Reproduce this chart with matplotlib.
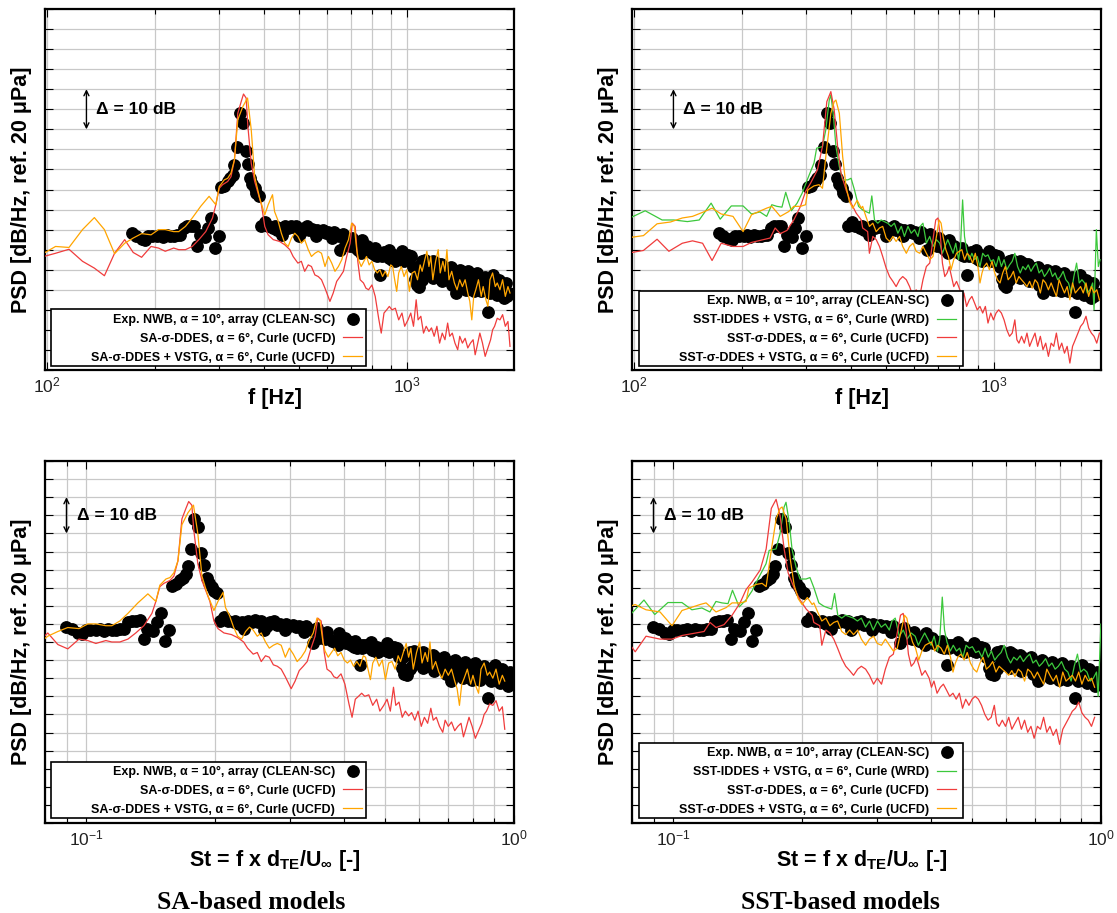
import numpy as np
import matplotlib
matplotlib.use('Agg')
import matplotlib.pyplot as plt
from matplotlib.patches import Rectangle
from matplotlib.ticker import MultipleLocator, LogLocator, NullFormatter

plt.rcParams['font.family'] = ['Liberation Sans', 'DejaVu Sans']
plt.rcParams['mathtext.fontset'] = 'custom'
plt.rcParams['mathtext.rm'] = 'Liberation Sans'
plt.rcParams['mathtext.it'] = 'Liberation Sans:italic'
plt.rcParams['mathtext.bf'] = 'Liberation Sans:bold'

# ---- experiment (NWB, CLEAN-SC), PSD in dB relative, f in Hz
exp_f = [172.7, 177.6, 183.5, 187.5, 191.6, 195.7, 202.2, 206.6, 211.0, 215.7, 220.4, 225.2, 230.0, 235.0,
         240.2, 245.4, 250.8, 256.2, 261.8, 266.4, 275.2, 280.6, 286.7, 293.6, 300.0, 304.4, 311.2, 318.0,
         322.8, 328.4, 332.0, 337.0, 343.0, 350.4, 356.4, 361.8, 367.4, 372.2, 377.8, 382.0, 388.6, 394.4,
         403.0, 411.8, 425.4,
         429, 437, 444, 452, 460, 468, 476, 484, 492, 501, 509, 518, 527, 536, 545, 555, 564, 574, 584, 594,
         605, 615, 626, 636, 647, 653, 664, 673, 684, 696, 708, 721, 733, 746, 759, 772, 785, 799, 813, 827,
         841, 848, 863, 878, 893, 908, 924, 940, 956, 973, 989, 1006, 1024, 1037, 1051, 1064, 1078, 1097,
         1115, 1135, 1154, 1174, 1195, 1215, 1236, 1257, 1279, 1301, 1324, 1347, 1370, 1394, 1418, 1442,
         1467, 1493, 1519, 1545, 1572, 1599, 1626, 1655, 1676, 1705, 1734, 1764, 1795, 1826, 1857, 1889, 1922,
         702, 750, 816, 889, 968,
         1060, 1101, 1154, 1200, 1257, 1307, 1370, 1424, 1493, 1551, 1626, 1690, 1764, 1834,
         450, 500, 560, 620, 780, 850, 920, 980,
         1110, 1180, 1250, 1330, 1400, 1460, 1530, 1600, 1700, 1780, 1860,
         1120, 1180, 1240, 1320, 1400, 1480, 1560, 1640, 1720, 1800, 1880]
exp_psd = [34.1, 33.5, 32.6, 32.3, 33.3, 33.3, 33.3, 33.6, 33.1, 33.6, 33.3, 33.3, 33.6, 33.6,
           35.4, 35.8, 35.8, 36.0, 30.8, 33.7, 33.1, 35.4, 37.9, 30.4, 33.3, 45.6, 45.9, 47.0,
           47.8, 48.7, 51.1, 55.7, 64.0, 61.7, 54.7, 51.3, 47.8, 46.4, 45.3, 44.1, 43.4, 35.8,
           37.0, 35.8, 35.4,
           35.8, 35.0, 35.4, 35.1, 35.8, 35.4, 36.0, 35.6, 35.8, 35.1, 34.5, 35.4, 35.8, 34.8, 35.1, 34.5, 35.0,
           34.3, 34.8, 34.1, 34.5, 34.0, 34.3, 33.7, 33.3, 29.8, 34.0, 31.2, 31.6, 30.8, 31.2, 30.4, 30.0, 29.1,
           30.8, 31.0, 30.4, 29.1, 28.7, 28.3, 23.7, 29.1, 29.3, 28.7, 27.9, 27.5, 27.1, 27.9, 28.3, 27.5, 28.5,
           28.7, 28.3, 25.8, 22.7, 21.2, 20.8, 22.5, 25.8, 26.2, 24.6, 24.2, 25.0, 23.3, 24.2, 24.6, 22.9, 23.7,
           22.5, 21.7, 19.2, 23.3, 24.2, 22.5, 21.7, 22.1, 21.2, 21.7, 20.8, 22.1, 20.4, 20.8, 14.4, 21.2, 23.7,
           20.4, 19.6, 19.2, 17.9, 18.35, 19.2,
           32.9, 32.5, 30.4, 30.0, 29.6,
           25.8, 27.1, 26.65, 26.8, 25.8, 25.4, 24.6, 22.1, 20.4, 20.0, 22.5, 22.5, 21.7, 20.8,
           33.7, 33.3, 33.3, 32.9, 29.6, 28.3, 28.7, 27.1,
           23.3, 22.9, 22.1, 21.2, 20.8, 20.0, 19.6, 19.6, 19.2, 18.8, 18.3,
           27.5, 27.1, 26.5, 25.8, 25.0, 24.6, 24.2, 23.3, 22.9, 22.5, 21.7]

# ---- SA-sigma-DDES (UCFD)
sa_red_f = [98.2, 105.9, 115.4, 125.8, 135.7, 144.7, 154.4, 164.7, 173.9, 183.5, 194.9, 204.4, 213.4, 225.2,
            232.6, 242.8, 253.6, 264.6, 276.4, 288.6, 294.8, 301.2, 307.8, 318.0, 324.8, 332.0, 339.2, 346.6,
            351.8, 357.8, 361.8, 369.6, 377.8, 386.0, 394.4, 403.0, 411.8, 425.4,
            443, 458, 473, 483, 498, 509, 520, 532, 543, 555, 567, 579, 592, 611, 624, 638, 652, 666, 680,
            695, 705, 718, 730, 741, 757, 769, 782, 799, 816, 834, 848, 863, 878, 893, 908, 928, 948, 968, 985,
            1006, 1024, 1042, 1060, 1073, 1092, 1111, 1130, 1150, 1169, 1189, 1210, 1231, 1252, 1274, 1296,
            1313, 1335, 1358, 1382, 1400, 1424, 1449, 1474, 1499, 1525, 1545, 1564, 1592, 1619, 1647, 1676,
            1705, 1727, 1749, 1779, 1810, 1841, 1873, 1905, 1930]
sa_red_psd = [28.3, 29.1, 30.1, 27.1, 25.4, 23.5, 29.1, 32.5, 29.3, 28.1, 30.8, 30.4, 29.6, 30.4,
              30.0, 30.0, 30.8, 32.5, 34.5, 37.9, 41.2, 45.3, 46.2, 47.0, 48.2, 52.4, 64.0, 66.9,
              68.8, 67.8, 60.7, 51.6, 47.0, 44.1, 41.2, 35.8, 33.7, 32.5,
              32.05, 31.2, 30.0, 28.3, 26.65, 27.1, 24.6, 26.2, 25.8, 23.7, 23.3, 22.5, 20.4, 17.1, 19.2, 22.1,
              23.3, 24.6, 28.3, 31.6, 36.6, 35.8, 27.1, 22.5, 21.7, 20.4, 20.0, 21.2, 18.35, 12.9, 9.2, 14.2,
              15.0, 15.85, 15.0, 15.4, 12.5, 14.2, 10.9, 12.5, 14.2, 10.9, 17.5, 12.5, 13.4, 9.2, 10.9, 9.6,
              10.5, 8.4, 10.9, 6.7, 9.2, 7.55, 11.7, 8.4, 9.2, 6.7, 5.06, 8.4, 6.7, 7.9, 5.5, 6.7, 7.55, 3.8,
              5.9, 9.2, 6.7, 3.4, 5.5, 7.55, 10.0, 10.9, 12.9, 12.5, 13.8, 10.9, 12.1, 5.9]

# ---- SA-sigma-DDES + VSTG (UCFD)
sa_orange_f = [98.2, 105.9, 115.4, 125.8, 135.7, 144.7, 154.4, 164.7, 173.9, 183.5, 194.9, 204.4, 213.4,
               225.2, 232.6, 242.8, 253.6, 267.6, 282.4, 294.8, 301.2, 311.2, 318.0, 324.8, 332.0, 339.2,
               350.4, 361.0, 369.6, 377.8, 390.2, 403.0, 411.8, 423.4,
               429, 438, 448, 458, 468, 478, 488, 498, 509, 520, 532, 543, 555, 567, 579, 592, 605, 618, 631,
               645, 659, 673, 688, 702, 714, 725, 733, 746, 759, 772, 785, 799, 813, 827, 841, 855, 870, 885,
               901, 912, 924, 936, 948, 964, 981, 998, 1015, 1033, 1051, 1069, 1087, 1101, 1120, 1135, 1150,
               1164, 1179, 1200, 1220, 1236, 1257, 1274, 1290, 1307, 1330, 1353, 1376, 1400, 1424, 1449, 1474,
               1493, 1512, 1531, 1551, 1578, 1606, 1626, 1655, 1676, 1698, 1727, 1757, 1779, 1810, 1841, 1873,
               1905, 1930]
sa_orange_psd = [29.1, 30.8, 30.55, 35.0, 38.0, 35.0, 29.0, 31.6, 32.9, 34.0, 33.7, 35.0, 35.0,
                 34.5, 34.5, 35.8, 37.9, 40.8, 43.3, 41.2, 45.7, 47.4, 47.8, 49.1, 52.4, 62.4,
                 65.7, 67.8, 59.9, 48.2, 42.8, 38.7, 41.2, 43.7,
                 39.5, 37.4, 34.1, 31.6, 30.8, 32.9, 34.1, 33.3, 31.6, 32.5, 30.0, 28.3, 29.1, 29.6, 29.1, 25.8,
                 28.3, 26.65, 24.6, 25.8, 27.5, 30.4, 32.5, 36.6, 35.8, 30.0, 27.5, 25.8, 27.1, 28.3, 26.2, 27.1,
                 25.0, 24.2, 25.0, 23.3, 24.6, 23.3, 26.2, 25.8, 22.5, 19.6, 24.2, 25.8, 23.3, 25.0, 19.6, 24.2,
                 24.6, 22.5, 26.2, 24.6, 27.5, 29.6, 25.8, 28.3, 22.5, 27.1, 30.0, 24.2, 27.1, 24.6, 30.0, 22.5,
                 24.6, 21.7, 20.0, 22.5, 20.8, 22.5, 19.2, 17.1, 12.5, 18.35, 20.0, 22.5, 18.35, 20.8, 17.5,
                 15.85, 22.5, 24.2, 20.8, 21.7, 20.0, 22.5, 18.35, 20.8, 19.2]

# ---- SST-IDDES + VSTG (WRD)
sst_green_f = [98.8, 107.7, 120.0, 129.3, 141.0, 152.1, 164.1, 173.9, 186.7, 201.3, 212.4, 224.2, 234.0,
               241.8, 249.8, 258.0, 264.3, 274.0, 284.2, 293.6, 303.2, 316.6, 322.0, 334.2, 341.4, 349.0,
               352.6, 358.6, 364.2, 372.2, 380.2, 392.8, 401.2, 410.0, 420.8,
               432, 441, 451, 458, 466, 476, 486, 496, 507, 518, 529, 541, 553, 564, 577, 589, 602, 615, 624,
               635, 649, 663, 677, 692, 707, 719, 731, 744, 757, 770, 783, 797, 807, 818, 828, 839, 854, 868,
               883, 898, 914, 930, 946, 962, 979, 996, 1013, 1030, 1048, 1066, 1085, 1104, 1123, 1142, 1162,
               1182, 1202, 1223, 1244, 1266, 1288, 1310, 1333, 1356, 1379, 1403, 1427, 1452, 1477, 1502, 1528,
               1555, 1582, 1609, 1637, 1665, 1694, 1723, 1753, 1783, 1814, 1845, 1877, 1894, 1922, 1947, 1968]
sst_green_psd = [38.1, 39.7, 37.4, 37.4, 37.0, 37.4, 41.6, 37.6, 40.9, 40.9, 38.9, 39.4, 38.3,
                 41.2, 40.8, 40.6, 44.3, 39.7, 41.6, 44.1, 47.4, 51.6, 55.3, 55.7, 59.9, 67.3,
                 68.6, 63.2, 55.7, 50.7, 47.4, 47.4, 47.8, 44.9, 40.8,
                 39.9, 39.5, 39.1, 43.4, 37.4, 36.6, 37.4, 37.0, 36.6, 35.8, 36.6, 34.1, 35.8, 33.3, 35.8, 34.1,
                 35.0, 33.3, 35.8, 36.6, 31.6, 33.3, 30.8, 32.5, 31.6, 29.1, 30.8, 32.5, 30.8, 29.1, 31.6, 27.5,
                 30.8, 42.4, 33.3, 30.0, 27.5, 29.1, 27.5, 28.3, 25.8, 29.1, 28.3, 28.7, 27.1, 27.5, 25.8, 28.3,
                 25.8, 27.5, 25.0, 26.2, 27.1, 29.1, 25.8, 24.2, 25.8, 25.0, 26.2, 24.6, 25.8, 26.65, 24.2, 25.0,
                 23.3, 24.2, 25.4, 23.3, 24.2, 22.5, 23.3, 24.6, 22.5, 21.7, 19.2, 23.3, 26.65, 21.7, 22.5, 21.7,
                 19.2, 20.0, 21.7, 15.0, 35.0, 25.8, 27.5]

# ---- SST-sigma-DDES (UCFD)
sst_red_f = [98.8, 106.5, 116.2, 125.3, 136.5, 145.7, 155.4, 165.1, 175.0, 188.7, 201.3, 212.4, 224.2,
             239.2, 247.0, 255.2, 266.4, 278.2, 290.4, 300.0, 309.8, 323.6, 334.2, 343.6, 352.6, 360.2,
             368.2, 376.2, 388.6, 401.2, 414.6, 428.2,
             432, 446, 451, 461, 471, 481, 491, 502, 513, 524, 535, 547, 558, 571, 583, 596, 608, 622, 635,
             649, 663, 677, 689, 699, 710, 719, 730, 741, 751, 762, 773, 787, 804, 814, 825, 839, 854, 868,
             883, 898, 914, 930, 946, 962, 979, 996, 1013, 1030, 1048, 1066, 1085, 1104, 1123, 1142, 1157,
             1172, 1192, 1213, 1234, 1255, 1276, 1299, 1321, 1344, 1367, 1391, 1415, 1440, 1464, 1489, 1515,
             1541, 1568, 1595, 1623, 1651, 1680, 1709, 1738, 1768, 1799, 1830, 1862, 1894, 1927, 1960]
sst_red_psd = [29.3, 29.8, 32.6, 29.6, 31.6, 32.2, 31.6, 27.3, 31.6, 30.8, 30.8, 31.8, 32.3,
               32.9, 35.4, 34.0, 34.8, 37.4, 40.8, 44.5, 46.6, 49.9, 55.7, 66.9, 69.4, 64.9,
               55.7, 49.1, 44.9, 41.6, 39.1, 37.4,
               35.4, 34.5, 29.1, 33.3, 32.5, 30.8, 28.3, 25.4, 23.3, 22.1, 20.8, 22.5, 23.3, 22.5, 20.8, 18.35,
               20.0, 18.35, 22.5, 25.8, 26.65, 32.5, 37.4, 37.9, 33.3, 26.65, 23.3, 24.2, 25.8, 23.3, 20.8, 22.1,
               20.0, 17.5, 19.2, 15.85, 17.5, 18.35, 16.7, 15.0, 15.85, 14.2, 15.85, 11.7, 14.2, 12.5, 14.2,
               15.0, 14.2, 12.5, 10.0, 8.4, 9.2, 12.5, 7.55, 6.7, 8.4, 6.7, 9.2, 5.9, 7.55, 9.2, 5.9, 8.4, 5.06,
               6.7, 3.4, 6.7, 5.9, 9.2, 5.06, 6.7, 4.2, 5.9, 1.73, 5.9, 7.55, 9.2, 10.87, 11.7, 13.4, 10.45,
               9.2, 8.4, 6.7, 9.2]

# ---- SST-sigma-DDES + VSTG (UCFD)
sst_orange_f = [98.8, 106.5, 116.2, 126.6, 136.5, 145.7, 155.4, 165.1, 175.0, 188.7, 201.3, 212.4, 226.6,
                234.0, 241.8, 255.2, 269.4, 278.2, 290.4, 300.0, 304.4, 316.6, 327.0, 334.2, 341.4, 352.6,
                360.2, 364.2, 372.2, 380.2, 388.6, 397.0, 405.6, 417.2, 428.2,
                432, 441, 451, 461, 471, 481, 491, 502, 513, 524, 535, 547, 558, 571, 583, 596, 608, 622, 635,
                649, 663, 677, 692, 704, 713, 722, 735, 747, 760, 773, 787, 801, 814, 828, 842, 857, 872, 887,
                902, 914, 926, 938, 954, 971, 987, 1004, 1022, 1039, 1057, 1075, 1094, 1113, 1132, 1152, 1172,
                1192, 1213, 1234, 1255, 1276, 1299, 1321, 1344, 1367, 1391, 1415, 1440, 1464, 1489, 1515, 1541,
                1568, 1595, 1623, 1651, 1680, 1709, 1738, 1768, 1799, 1830, 1862, 1894, 1927, 1960]
sst_orange_psd = [33.1, 33.5, 36.45, 36.9, 37.9, 38.3, 39.3, 40.35, 38.9, 38.3, 34.5, 38.7, 39.8,
                  40.35, 40.8, 38.3, 39.5, 40.8, 40.8, 41.2, 44.9, 45.9, 46.2, 45.3, 53.2, 64.0,
                  66.9, 67.3, 64.0, 53.2, 45.7, 42.0, 40.35, 42.3, 40.35,
                  40.8, 38.3, 35.8, 36.6, 34.5, 35.4, 35.8, 32.9, 32.05, 33.3, 32.05, 33.3, 30.8, 29.1, 30.8,
                  31.6, 29.6, 29.1, 30.8, 29.1, 27.5, 28.3, 33.3, 37.4, 36.6, 33.3, 30.0, 28.3, 25.0, 27.5, 29.1,
                  29.6, 30.0, 27.5, 29.1, 28.3, 26.65, 29.1, 25.8, 21.7, 24.2, 25.8, 26.65, 25.0, 27.1, 24.2,
                  22.5, 21.7, 24.2, 25.8, 22.5, 23.3, 24.6, 21.7, 23.3, 22.5, 21.7, 20.8, 22.1, 20.4, 22.5, 21.7,
                  19.2, 22.5, 21.7, 20.0, 21.7, 20.0, 18.35, 22.5, 20.8, 19.2, 20.8, 17.5, 21.7, 19.2, 20.0, 20.8,
                  19.2, 21.7, 18.35, 20.8, 19.2, 20.0, 17.5]

# Strouhal scaling St = f * d_TE / U_inf for each data source, and PSD shift for the St plots
ST_PER_HZ_EXP = 5.2e-4
ST_PER_HZ_UCFD = 4.93e-4
ST_PER_HZ_WRD = 5.2e-4
DB_SHIFT_ST = 20.0

lab_exp = 'Exp. NWB, α = 10°, array (CLEAN-SC)'
lab_sa_red = 'SA-σ-DDES, α = 6°, Curle (UCFD)'
lab_sa_orange = 'SA-σ-DDES + VSTG, α = 6°, Curle (UCFD)'
lab_sst_green = 'SST-IDDES + VSTG, α = 6°, Curle (WRD)'
lab_sst_red = 'SST-σ-DDES, α = 6°, Curle (UCFD)'
lab_sst_orange = 'SST-σ-DDES + VSTG, α = 6°, Curle (UCFD)'

RED = '#f03c3c'
ORANGE = '#ffa500'
GREEN = '#3cc83c'

W, H = 1117.0, 913.0


def style_axes(ax, xlim, ylim):
    ax.set_xscale('log')
    ax.set_xlim(xlim)
    ax.set_ylim(ylim)
    ax.xaxis.set_major_locator(LogLocator(base=10))
    ax.xaxis.set_minor_locator(LogLocator(base=10, subs=np.arange(2, 10)))
    ax.xaxis.set_minor_formatter(NullFormatter())
    ax.yaxis.set_major_locator(MultipleLocator(5))
    ax.set_yticklabels([])
    ax.grid(True, which='both', color='#c8c8c8', lw=0.9)
    ax.set_axisbelow(True)
    ax.tick_params(which='both', direction='in', top=True, right=True, colors='black',
                   labelsize=12.5, labelcolor='#222222', pad=4)
    ax.tick_params(which='major', length=6, width=0.8)
    ax.tick_params(which='minor', length=3.5, width=0.8)
    for s in ax.spines.values():
        s.set_linewidth(1.6)


def delta_mark(ax, x_arrow, x_text, y0):
    ax.annotate('', xy=(x_arrow, y0), xytext=(x_arrow, y0 + 10),
                arrowprops=dict(arrowstyle='<->', lw=1.0, color='black',
                                shrinkA=0, shrinkB=0, mutation_scale=9))
    ax.text(x_text, y0 + 5, 'Δ = 10 dB', fontsize=12.5, fontweight='bold', va='center', ha='left')


def key_box(ax, ax_px, box_px, handle_right_px, rows_bottom_px):
    # gnuplot-like key: right-aligned labels, samples on the right, wide frame
    x0, y_top, w, h = ax_px
    bx0, by0, bx1, by1 = box_px
    ax.add_patch(Rectangle(((bx0 - x0) / w, (y_top + h - by1) / h), (bx1 - bx0) / w, (by1 - by0) / h,
                           transform=ax.transAxes, facecolor='white', edgecolor='black',
                           lw=1.2, zorder=9, clip_on=False))
    leg = ax.legend(loc='lower right', markerfirst=False, frameon=False,
                    bbox_to_anchor=((handle_right_px - x0) / w, (y_top + h - rows_bottom_px) / h),
                    prop={'weight': 'bold', 'size': 9}, borderaxespad=0, borderpad=0,
                    handlelength=1.5, handletextpad=0.65, labelspacing=0.54)
    leg.set_zorder(10)


# axes rectangles in pixels: left, top, width, height
px_tl = (45, 9, 469, 361)
px_tr = (632, 9, 469, 361)
px_bl = (45, 461, 469, 362)
px_br = (632, 461, 469, 362)

fig = plt.figure(figsize=(11.17, 9.13), dpi=100)
axes = {}
for name, (x0, yt, w, h) in [('tl', px_tl), ('tr', px_tr), ('bl', px_bl), ('br', px_br)]:
    axes[name] = fig.add_axes([x0 / W, 1 - (yt + h) / H, w / W, h / H])
ax_tl, ax_tr, ax_bl, ax_br = axes['tl'], axes['tr'], axes['bl'], axes['br']

exp_f = np.array(exp_f)
exp_psd = np.array(exp_psd)

mk = dict(ls='none', marker='o', ms=8.2, color='black', zorder=3)
ln = dict(lw=0.9, zorder=4)

# top: PSD over frequency
for ax, sims in [(ax_tl, [(sa_red_f, sa_red_psd, RED, lab_sa_red),
                          (sa_orange_f, sa_orange_psd, ORANGE, lab_sa_orange)]),
                 (ax_tr, [(sst_green_f, sst_green_psd, GREEN, lab_sst_green),
                          (sst_red_f, sst_red_psd, RED, lab_sst_red),
                          (sst_orange_f, sst_orange_psd, ORANGE, lab_sst_orange)])]:
    ax.plot(exp_f, exp_psd, label=lab_exp, **mk)
    for f, p, c, lab in sims:
        ax.plot(f, p, color=c, label=lab, **ln)
    style_axes(ax, (99, 1980), (0, 90))
    delta_mark(ax, 129, 137, 60)
    ax.set_xlabel('f [Hz]', fontsize=15.5, fontweight='bold')
    ax.xaxis.set_label_coords(0.49, -0.05)

# bottom: PSD over Strouhal number
for ax, sims in [(ax_bl, [(sa_red_f, sa_red_psd, RED, lab_sa_red, ST_PER_HZ_UCFD),
                          (sa_orange_f, sa_orange_psd, ORANGE, lab_sa_orange, ST_PER_HZ_UCFD)]),
                 (ax_br, [(sst_green_f, sst_green_psd, GREEN, lab_sst_green, ST_PER_HZ_WRD),
                          (sst_red_f, sst_red_psd, RED, lab_sst_red, ST_PER_HZ_UCFD),
                          (sst_orange_f, sst_orange_psd, ORANGE, lab_sst_orange, ST_PER_HZ_UCFD)])]:
    ax.plot(exp_f * ST_PER_HZ_EXP, exp_psd + DB_SHIFT_ST, label=lab_exp, **mk)
    for f, p, c, lab, k in sims:
        ax.plot(np.array(f) * k, np.array(p) + DB_SHIFT_ST, color=c, label=lab, **ln)
    style_axes(ax, (0.08, 1.0), (0, 100))
    delta_mark(ax, 0.0898, 0.0953, 80)
    ax.set_xlabel(r'St = f x d$_{\mathbf{TE}}$/U$_{\mathbf{\infty}}$ [-]', fontsize=15.5, fontweight='bold')
    ax.xaxis.set_label_coords(0.49, -0.068)

for ax in [ax_tl, ax_tr, ax_bl, ax_br]:
    ax.set_ylabel('PSD [dB/Hz, ref. 20 μPa]', fontsize=15.5, fontweight='bold')
    ax.yaxis.set_label_coords(-0.028, 0.5)

key_box(ax_tl, px_tl, (51, 309, 366, 366), 362, 363.5)
key_box(ax_tr, px_tr, (639, 291, 963, 366), 956, 363.5)
key_box(ax_bl, px_bl, (51, 762, 366, 817.5), 362, 815.5)
key_box(ax_br, px_br, (639, 742.5, 963, 817.5), 956, 815.5)

fig.text(251 / W, 1 - 902 / H, 'SA-based models', fontsize=18.5, fontweight='bold',
         family='Liberation Serif', ha='center', va='center')
fig.text(840 / W, 1 - 902 / H, 'SST-based models', fontsize=18.5, fontweight='bold',
         family='Liberation Serif', ha='center', va='center')

fig.savefig('out.png', dpi=100)
